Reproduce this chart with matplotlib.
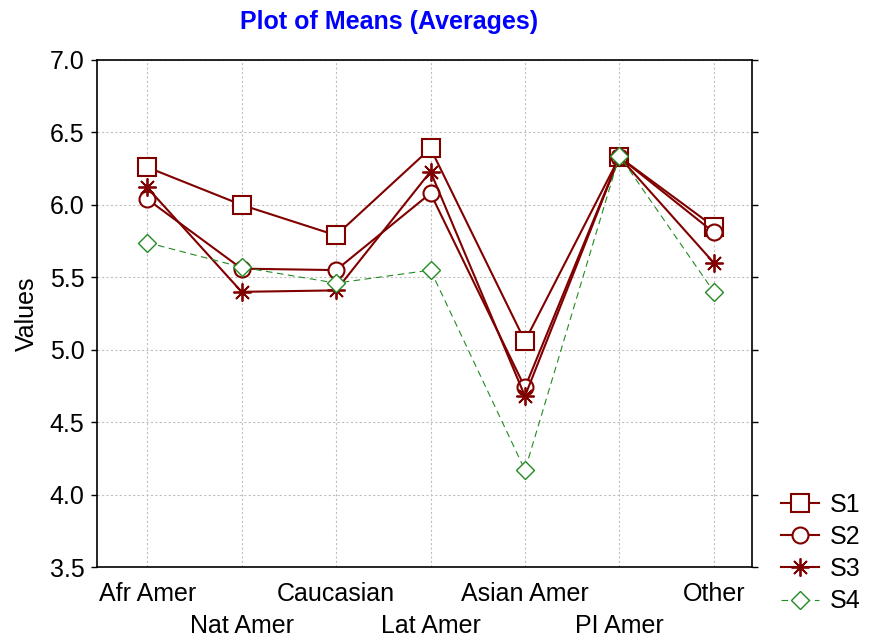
import matplotlib
matplotlib.use("Agg")
import matplotlib.pyplot as plt

plt.rcParams["font.family"] = ["Liberation Sans", "DejaVu Sans"]

# ------------------------------------------------------------
# Data
# ------------------------------------------------------------
groups = ["Afr Amer", "Nat Amer", "Caucasian", "Lat Amer",
          "Asian Amer", "PI Amer", "Other"]

s1 = [6.26, 6.00, 5.79, 6.39, 5.06, 6.33, 5.85]
s2 = [6.04, 5.56, 5.55, 6.08, 4.74, 6.33, 5.81]
s3 = [6.12, 5.40, 5.41, 6.23, 4.68, 6.33, 5.60]
s4 = [5.74, 5.57, 5.46, 5.55, 4.17, 6.34, 5.40]

yticks = [3.5, 4.0, 4.5, 5.0, 5.5, 6.0, 6.5, 7.0]

RED = "#800000"
GREEN = "#228B22"
FS = 18

# ------------------------------------------------------------
# Figure
# ------------------------------------------------------------
fig = plt.figure(figsize=(8.75, 6.38), dpi=100)
ax = fig.add_axes([0.111, 0.111, 0.748, 0.795])

x = list(range(len(groups)))

ax.plot(x, s1, color=RED, lw=1.5, marker="s", ms=12.5, mfc="white",
        mec=RED, mew=1.5, label="S1", zorder=3)
ax.plot(x, s2, color=RED, lw=1.5, marker="o", ms=11.5, mfc="white",
        mec=RED, mew=1.5, label="S2", zorder=3)
ax.plot(x, s3, color=RED, lw=1.5, marker=(8, 2, 0), ms=13,
        mec=RED, mew=1.3, label="S3", zorder=3)
ax.plot(x, s4, color=GREEN, lw=0.8, ls=(0, (6, 4)), marker="D", ms=9.5,
        mfc="white", mec=GREEN, mew=1.0, label="S4", zorder=4)

ax.set_xlim(-0.53, 6.4)
ax.set_ylim(3.5, 7.0)
ax.set_yticks(yticks)
ax.set_yticklabels([f"{v:.1f}" for v in yticks], fontsize=FS)

# staggered category labels: even ones on the upper row, odd ones lower
ax.set_xticks(x[0::2])
ax.set_xticklabels(groups[0::2], fontsize=FS)
ax.set_xticks(x[1::2], minor=True)
ax.set_xticklabels(groups[1::2], minor=True, fontsize=FS)
ax.tick_params(axis="x", which="major", length=0, pad=11)
ax.tick_params(axis="x", which="minor", length=0, pad=34)
ax.tick_params(axis="y", direction="out", length=4, width=1,
               left=True, right=True, pad=5)

ax.grid(True, which="both", axis="x", color="#c0c0c0", ls=(0, (2, 2)), lw=0.8)
ax.grid(True, axis="y", color="#c0c0c0", ls=(0, (2, 2)), lw=0.8)
ax.set_axisbelow(True)
for sp in ax.spines.values():
    sp.set_linewidth(1.2)
    sp.set_color("black")

ax.set_ylabel("Values", fontsize=FS, labelpad=8)

fig.text(389 / 875, 1 - 22 / 638, "Plot of Means (Averages)", color="#0000ff",
         fontsize=FS, fontweight="bold", ha="center", va="center")

fig.legend(loc="upper left", bbox_to_anchor=(0.893, 0.228), frameon=False,
           fontsize=FS, handlelength=1.5, handletextpad=0.45,
           labelspacing=0.33, borderaxespad=0, borderpad=0)

fig.savefig("out.png", dpi=100)
